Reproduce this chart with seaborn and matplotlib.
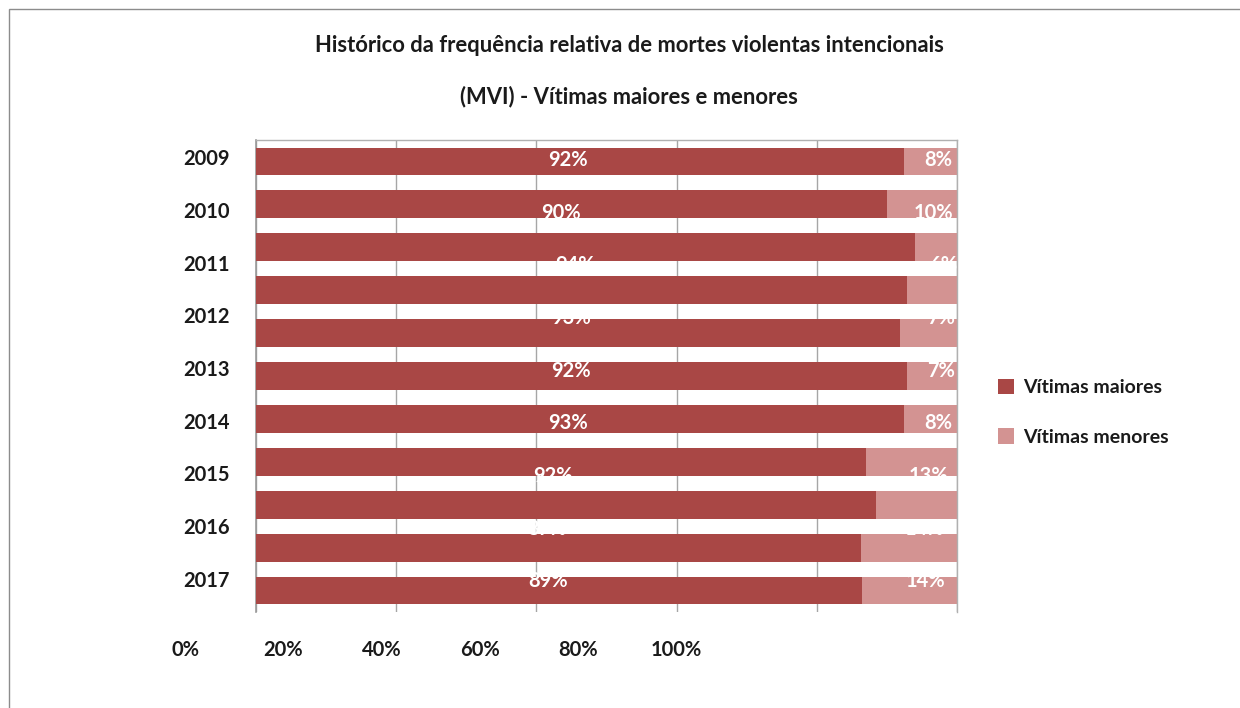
import matplotlib
matplotlib.use("Agg")
import matplotlib.pyplot as plt
from matplotlib.patches import Patch, Rectangle
import seaborn as sns
import pandas as pd
import numpy as np

# ---- data ----
years = ["2009", "2010", "2011", "2012", "2013", "2014", "2015", "2016", "2017"]
label_maiores = [92, 90, 94, 93, 92, 93, 92, 87, 89]
label_menores = [8, 10, 6, 7, 7, 8, 13, 14, 14]
# the rendered bars (11 drawn bands in the source image)
bar_slots = ["b1", "b2", "b3", "b4", "b5", "b6", "b7", "b8", "b9", "b10", "b11"]
bar_maiores = [0.924, 0.900, 0.940, 0.928, 0.919, 0.929, 0.925, 0.870, 0.885, 0.863, 0.864]
bar_menores = [0.076, 0.100, 0.060, 0.072, 0.081, 0.071, 0.075, 0.130, 0.115, 0.137, 0.136]
x_ticks = [0, 0.2, 0.4, 0.6, 0.8, 1.0]
x_ticklabels = ["0%", "20%", "40%", "60%", "80%", "100%"]
series_names = ["Vítimas maiores", "Vítimas menores"]
title_lines = ["Histórico da frequência relativa de mortes violentas intencionais",
               "(MVI) - Vítimas maiores e menores"]

C_MAIOR = "#A94745"
C_MENOR = "#D39392"
GRID = "#A6A6A6"

sns.set_theme(style="white")
FONT = ["Lato", "DejaVu Sans"]
plt.rcParams["font.family"] = FONT

W, H = 1240, 708
fig = plt.figure(figsize=(W / 100, H / 100), dpi=100)

def px_axes(x0, y0, x1, y1):
    return fig.add_axes([x0 / W, 1 - y1 / H, (x1 - x0) / W, (y1 - y0) / H])

# outer chart border (cropped at right/bottom)
fig.patches.append(Rectangle((9 / W, -0.1), 1.2, 1 - 9 / H + 0.1, transform=fig.transFigure,
                             fill=False, edgecolor="#8C8C8C", linewidth=1.0))

# ---- bars ----
ax = px_axes(256, 140, 957, 612)
df = pd.DataFrame({"slot": bar_slots, "maiores": bar_maiores, "menores": bar_menores})
df["total"] = df["maiores"] + df["menores"]
sns.barplot(data=df, y="slot", x="total", orient="h", color=C_MENOR, width=0.65,
            saturation=1, linewidth=0, ax=ax, zorder=2)
sns.barplot(data=df, y="slot", x="maiores", orient="h", color=C_MAIOR, width=0.65,
            saturation=1, linewidth=0, ax=ax, zorder=3)
ax.set_xlim(0, 1)
ax.set_ylim(len(bar_slots) - 0.5, -0.5)
ax.set_xticks(x_ticks)
ax.xaxis.grid(True, color=GRID, linewidth=1.0, zorder=0)
ax.set_axisbelow(True)
ax.tick_params(left=False, bottom=False, labelleft=False, labelbottom=False)
ax.set_xlabel("")
ax.set_ylabel("")
for s in ["top", "right"]:
    ax.spines[s].set_color("#B0B0B0")
    ax.spines[s].set_linewidth(1.0)
ax.spines["left"].set_color("#999999")
ax.spines["left"].set_linewidth(1.2)
ax.spines["bottom"].set_visible(False)

# ---- category labels & data labels (9 bands) ----
ax2 = px_axes(256, 131, 957, 605)
ax2.set_facecolor("none")
ax2.set_xlim(0, 1)
ax2.set_ylim(len(years) - 0.5, -0.5)
ax2.set_yticks(range(len(years)))
ax2.set_yticklabels(years, fontsize=14.5, fontweight="bold", color="#1a1a1a")
ax2.tick_params(axis="y", length=0, pad=19)
ax2.tick_params(axis="x", bottom=False, labelbottom=False)
for s in ax2.spines.values():
    s.set_visible(False)
for i, (m, n) in enumerate(zip(label_maiores, label_menores)):
    tot = m + n
    ax2.text(m / tot / 2 - 0.015, i + 0.05, f"{m}%", color="white", fontsize=14.5,
             fontweight="bold", ha="center", va="center", zorder=5)
    ax2.text(1 - 0.33 * n / tot, i + 0.05, f"{n}%", color="white", fontsize=14.5,
             fontweight="bold", ha="center", va="center", zorder=5)

# ---- value axis labels (offset as in the source image) ----
ax3 = px_axes(185, 611, 676, 612)
ax3.set_facecolor("none")
ax3.set_xlim(0, 1)
ax3.set_xticks(x_ticks)
ax3.set_xticklabels(x_ticklabels, fontsize=14.5, fontweight="bold", color="#1a1a1a")
ax3.tick_params(axis="x", length=0, pad=20)
ax3.set_yticks([])
for s in ax3.spines.values():
    s.set_visible(False)

# ---- title ----
fig.text(629 / W, 1 - 45 / H, title_lines[0], ha="center", va="center",
         fontsize=15.8, fontweight="bold", color="#1a1a1a")
fig.text(629 / W, 1 - 97 / H, title_lines[1], ha="center", va="center",
         fontsize=15.8, fontweight="bold", color="#1a1a1a")

# ---- legend ----
handles = [Patch(facecolor=C_MAIOR, edgecolor="none"), Patch(facecolor=C_MENOR, edgecolor="none")]
leg = fig.legend(handles, series_names, loc="upper left",
                 bbox_to_anchor=(980 / W, 1 - 361 / H), frameon=False,
                 handlelength=0.85, handleheight=0.85, handletextpad=0.45,
                 labelspacing=1.65, prop={"size": 14, "weight": "bold", "family": FONT})
for t in leg.get_texts():
    t.set_color("#1a1a1a")

fig.savefig("out.png", dpi=100, facecolor="white")
